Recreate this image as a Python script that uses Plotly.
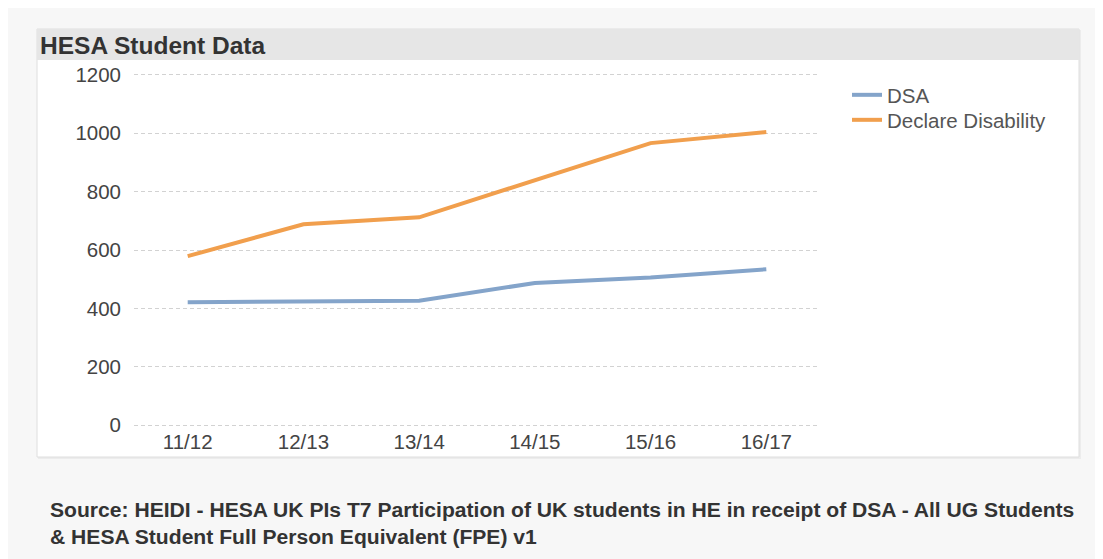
import plotly.graph_objects as go

categories = ["11/12", "12/13", "13/14", "14/15", "15/16", "16/17"]
dsa = [421, 422, 426, 487, 506, 534]
declare_disability = [579, 688, 712, 840, 966, 1004]
y_ticks = [0, 200, 400, 600, 800, 1000, 1200]

OFF = 8  # page body margin
W, H = 1103 - OFF, 559 - OFF
PL, PR, PT, PB = 134 - OFF, 817 - OFF, 73 - OFF, 427 - OFF  # plot area in px


def px(x):
    return (x - OFF - PL) / (PR - PL)


def py(y):
    return (PB - (y - OFF)) / (PB - PT)


fig = go.Figure()
fig.add_trace(go.Scatter(x=categories, y=dsa, name="DSA", mode="lines",
                         line=dict(color="#84a4ca", width=4), legend="legend"))
fig.add_trace(go.Scatter(x=categories, y=declare_disability, name="Declare Disability",
                         mode="lines", line=dict(color="#f19f4d", width=4), legend="legend2"))

shapes = [
    # outer grey page
    dict(type="rect", xref="paper", yref="paper", x0=px(6), x1=px(1101), y0=py(4), y1=py(570),
         fillcolor="#f7f7f7", line=dict(width=0), layer="below"),
    # panel shadow
    dict(type="rect", xref="paper", yref="paper", x0=px(38), x1=px(1081), y0=py(30), y1=py(459),
         fillcolor="#ececec", line=dict(width=0), layer="below"),
    # panel
    dict(type="rect", xref="paper", yref="paper", x0=px(37), x1=px(1079), y0=py(29), y1=py(457),
         fillcolor="#ffffff", line=dict(color="#dedede", width=1), layer="below"),
    # header bar
    dict(type="rect", xref="paper", yref="paper", x0=px(37), x1=px(1079), y0=py(29), y1=py(60),
         fillcolor="#e6e6e6", line=dict(width=0), layer="below"),
]

annotations = [
    dict(text="<b>HESA Student Data</b>", xref="paper", yref="paper", x=px(38), y=py(45),
         xanchor="left", yanchor="middle", showarrow=False,
         font=dict(family="Liberation Sans, Arial", size=24.5, color="#333333")),
    dict(text="<b>Source: HEIDI - HESA UK PIs T7 Participation of UK students in HE in receipt of DSA - All UG Students</b><br>"
              "<b>& HESA Student Full Person Equivalent (FPE) v1</b>",
         xref="paper", yref="paper", x=px(48), y=py(523), xanchor="left", yanchor="middle",
         align="left", showarrow=False,
         font=dict(family="Liberation Sans, Arial", size=21.1, color="#333333")),
]

legend_common = dict(xanchor="left", yanchor="top", bgcolor="rgba(0,0,0,0)", itemwidth=30,
                     font=dict(family="Liberation Sans, Arial", size=20.5, color="#555555"))

fig.update_layout(
    width=W, height=H,
    margin=dict(l=PL, r=W - PR, t=PT, b=H - PB, pad=0),
    paper_bgcolor="#ffffff", plot_bgcolor="rgba(0,0,0,0)",
    font=dict(family="Liberation Sans, Arial", size=20, color="#444444"),
    shapes=shapes, annotations=annotations,
    showlegend=True,
    legend=dict(x=px(847), y=py(75), **legend_common),
    legend2=dict(x=px(847), y=py(100), **legend_common),
    xaxis=dict(type="category", range=[-0.464, 5.438], showgrid=False, zeroline=False,
               showline=False, ticks="", tickfont=dict(size=20.5, color="#444444")),
    yaxis=dict(range=[-6, 1206], tickvals=y_ticks, showgrid=True, gridcolor="#d2d2d2",
               griddash="4px,3px", gridwidth=1, zeroline=False, showline=False, ticks="",
               ticklabelstandoff=12, tickfont=dict(size=20.5, color="#444444")),
)

fig.write_html("out.html")
